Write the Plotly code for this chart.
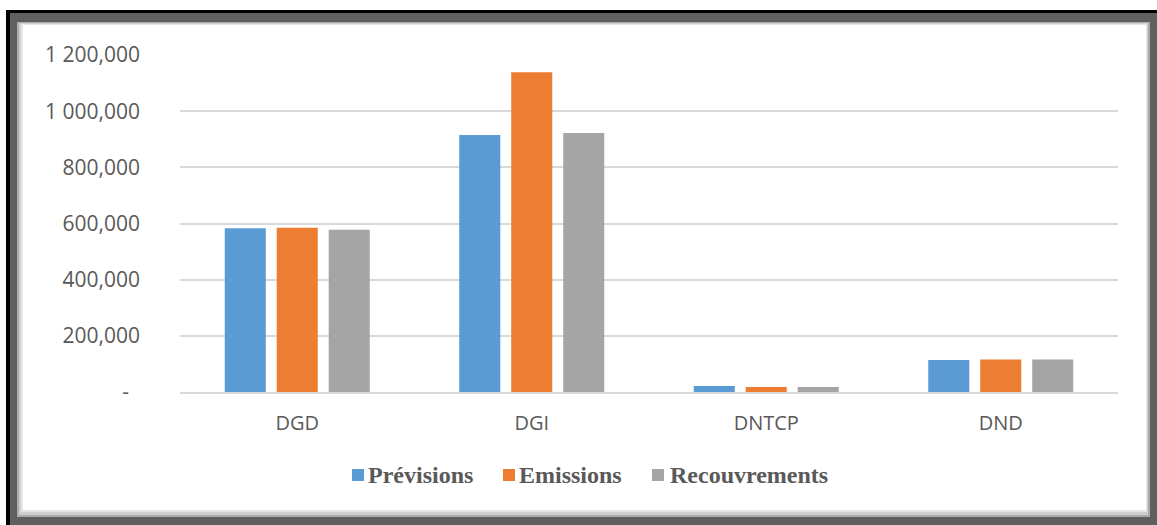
import plotly.graph_objects as go

# Data (values in thousands, French number format on the axis)
categories = ["DGD", "DGI", "DNTCP", "DND"]
series_names = ["Prévisions", "Emissions", "Recouvrements"]
previsions = [583, 915, 21, 114]
emissions = [585, 1139, 18, 116]
recouvrements = [578, 922, 18, 116]
tick_values = [0, 200, 400, 600, 800, 1000, 1200]
tick_labels = ["-\u00a0\u00a0", "200,000", "400,000", "600,000", "800,000", "1 000,000", "1 200,000"]

colors = ["#5b9bd5", "#ed7d31", "#a5a5a5"]
series_values = [previsions, emissions, recouvrements]

W_PX, H_PX = 1157, 525
L, R, T, B = 180, 1118, 55, 392   # plot area in pixels
PW, PH = R - L, B - T


def px(x):
    return (x - L) / PW


def py(y):
    return (B - y) / PH


fig = go.Figure()
for name, vals, col in zip(series_names, series_values, colors):
    fig.add_trace(go.Bar(x=categories, y=vals, name=name,
                         marker=dict(color=col, line=dict(width=0))))

# Picture frame around the chart
shapes = []


def rect(x0, y0, x1, y1, color):
    shapes.append(dict(type="rect", xref="paper", yref="paper",
                       x0=px(x0), x1=px(x1), y0=py(y1), y1=py(y0),
                       fillcolor=color, line=dict(width=0), layer="below"))


rect(6, 10, 1170, 540, "#000000")
rect(10, 13, 1170, 540, "#5f5f5f")
rect(17, 22, 1150, 517, "#ababab")
rect(19, 23, 1148, 515, "#cfcfcf")
rect(21, 24, 1147, 512, "#e6e6e6")
rect(23, 25, 1146, 510, "#ffffff")

# Legend: coloured squares with bold serif labels
legend_square_x = [352, 503, 652]
legend_text_x = [366, 517, 668]
annotations = []
for name, col, sx, tx in zip(series_names, colors, legend_square_x, legend_text_x):
    shapes.append(dict(type="rect", xref="paper", yref="paper",
                       x0=px(sx), x1=px(sx + 12), y0=py(481), y1=py(469),
                       fillcolor=col, line=dict(width=0)))
    annotations.append(dict(xref="paper", yref="paper", x=px(tx), y=py(475),
                            xanchor="left", yanchor="middle", showarrow=False,
                            text=name,
                            font=dict(family="Liberation Serif", size=24,
                                      color="#595959", weight="bold")))

fig.update_layout(
    width=W_PX, height=H_PX,
    margin=dict(l=L, r=W_PX - R, t=T, b=H_PX - B, pad=0),
    paper_bgcolor="#ffffff",
    plot_bgcolor="rgba(0,0,0,0)",
    barmode="group",
    bargap=0.335,
    bargroupgap=0.21,
    showlegend=False,
    shapes=shapes,
    annotations=annotations,
    font=dict(family="Open Sans", size=20, color="#595959"),
)

fig.update_yaxes(
    range=[0, 1200],
    tickmode="array", tickvals=tick_values, ticktext=tick_labels,
    showgrid=True, gridcolor="#d9d9d9", gridwidth=1.6,
    zeroline=False, showline=False, ticks="",
    ticklabelstandoff=39,
    tickfont=dict(family="Open Sans", size=21, color="#595959"),
)
fig.update_xaxes(
    showgrid=False, zeroline=False,
    showline=True, linecolor="#d9d9d9", linewidth=1.8,
    ticks="", ticklabelstandoff=12,
    tickfont=dict(family="Open Sans", size=20, color="#595959"),
)

fig.write_html("out.html")
